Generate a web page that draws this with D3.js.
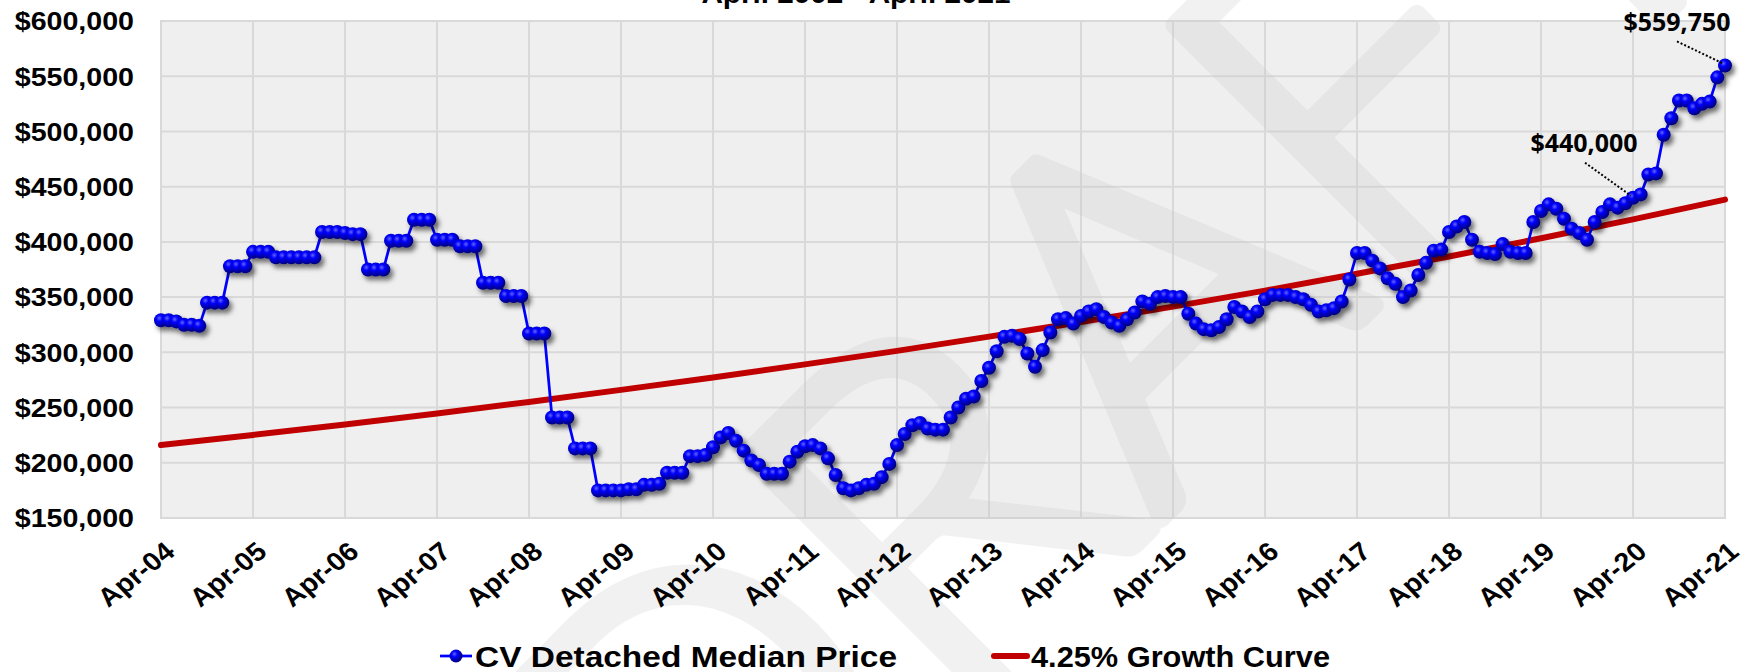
<!DOCTYPE html>
<html lang="en">
<head>
    <meta charset="UTF-8">
    <title>CV Detached Median Price</title>
    <script src="https://d3js.org/d3.v7.min.js"></script>
    <style>
        body { margin: 0; background: #fff; }
        svg { display: block; }
        text { font-family: "Liberation Sans", Arial, sans-serif; font-weight: bold; fill: #000; }
        .callout { font-family: "Open Sans", Lato, sans-serif; font-weight: 700; }
    </style>
</head>
<body>
<svg width="1743" height="672"></svg>
<script>
    // Apr-04 .. Apr-21, one value per month
    const medianPrice = [
        329000, 329000, 328000, 325000, 325000, 324000, 345000, 345000, 345000, 378000, 378000, 378000,
        391000, 391000, 391000, 386000, 386000, 386000, 386000, 386000, 386000, 409000, 409000, 409000,
        408000, 407000, 407000, 375000, 375000, 375000, 401000, 401000, 401000, 420000, 420000, 420000,
        402000, 402000, 402000, 396000, 396000, 396000, 363000, 363000, 363000, 351000, 351000, 351000,
        317000, 317000, 317000, 241000, 241000, 241000, 213000, 213000, 213000, 175000, 175000, 175000,
        175000, 176000, 176000, 180000, 180000, 181000, 191000, 191000, 191000, 206000, 206000, 207000,
        214000, 223000, 227000, 220000, 211000, 202000, 198000, 190000, 190000, 190000, 201000, 210000,
        215000, 216000, 213000, 204000, 189000, 177000, 175000, 177000, 180000, 181000, 187000, 199000,
        216000, 226000, 234000, 236000, 231000, 230000, 230000, 241000, 250000, 258000, 260000, 274000,
        286000, 301000, 314000, 315000, 312000, 299000, 287000, 302000, 318000, 330000, 331000, 326000,
        333000, 337000, 339000, 332000, 327000, 324000, 330000, 336000, 346000, 344000, 350000, 351000,
        350000, 350000, 335000, 326000, 321000, 320000, 323000, 330000, 341000, 337000, 332000, 337000,
        348000, 352000, 352000, 352000, 350000, 348000, 343000, 337000, 338000, 340000, 346000, 366000,
        390000, 390000, 383000, 376000, 367000, 362000, 350000, 356000, 370000, 381000, 392000, 393000,
        409000, 414000, 418000, 402000, 391000, 390000, 389000, 398000, 391000, 390000, 390000, 418000,
        428000, 434000, 430000, 421000, 412000, 408000, 402000, 418000, 427000, 434000, 431000, 435000,
        440000, 443000, 461000, 462000, 497000, 512000, 528000, 528000, 521000, 525000, 527000, 549000,
        559750
    ];

    // growth curve read at each April
    const growthCurve = [
        216000, 225200, 234700, 244700, 255100, 266000, 277300, 289100, 301300,
        314200, 327500, 341400, 355900, 371100, 386800, 403300, 420400, 438300
    ];

    const tickLabels = ["Apr-04", "Apr-05", "Apr-06", "Apr-07", "Apr-08", "Apr-09", "Apr-10", "Apr-11", "Apr-12",
                        "Apr-13", "Apr-14", "Apr-15", "Apr-16", "Apr-17", "Apr-18", "Apr-19", "Apr-20", "Apr-21"];
    const yTicks = [150000, 200000, 250000, 300000, 350000, 400000, 450000, 500000, 550000, 600000];

    const callouts = [
        { index: 192, label: "$440,000" },
        { index: 204, label: "$559,750" }
    ];

    const seriesNames = ["CV Detached Median Price", "4.25% Growth Curve"];

    // layout
    const plot = { left: 161, right: 1725, top: 21, bottom: 518 };
    const SX = 1.1; // the whole picture is a bit widened, text too

    const svg = d3.select("svg");
    const defs = svg.append("defs");

    const grad = defs.append("radialGradient").attr("id", "ball")
        .attr("cx", "38%").attr("cy", "35%").attr("r", "65%");
    grad.append("stop").attr("offset", "0%").attr("stop-color", "#6464ff");
    grad.append("stop").attr("offset", "35%").attr("stop-color", "#0000ff");
    grad.append("stop").attr("offset", "100%").attr("stop-color", "#00007a");

    defs.append("filter").attr("id", "shadow")
        .attr("x", "-50%").attr("y", "-50%").attr("width", "200%").attr("height", "200%")
        .append("feDropShadow")
        .attr("dx", 3).attr("dy", 4).attr("stdDeviation", 2.4)
        .attr("flood-color", "#000").attr("flood-opacity", 0.55);

    const x = d3.scaleLinear().domain([0, medianPrice.length - 1]).range([plot.left, plot.right]);
    const y = d3.scaleLinear().domain([150000, 600000]).range([plot.bottom, plot.top]);
    const yearIdx = tickLabels.map((d, i) => i * 12);

    // plot background + grid
    svg.append("rect")
        .attr("x", plot.left).attr("y", plot.top)
        .attr("width", plot.right - plot.left).attr("height", plot.bottom - plot.top)
        .attr("fill", "#efefef").attr("stroke", "#d9d9d9").attr("stroke-width", 2);

    const grid = svg.append("g").attr("stroke", "#d9d9d9").attr("stroke-width", 2);
    grid.selectAll(".hg").data(yTicks).join("line")
        .attr("x1", plot.left).attr("x2", plot.right)
        .attr("y1", d => y(d)).attr("y2", d => y(d));
    grid.selectAll(".vg").data(yearIdx).join("line")
        .attr("x1", d => x(d)).attr("x2", d => x(d))
        .attr("y1", plot.top).attr("y2", plot.bottom);

    // faint watermark
    svg.append("text")
        .attr("transform", "translate(1230,450) rotate(-45)")
        .attr("text-anchor", "middle")
        .style("font-family", "Lato, 'DejaVu Sans', sans-serif")
        .style("font-weight", 300)
        .style("font-size", "480px")
        .style("fill", "#c4c4c4")
        .style("stroke", "#c4c4c4")
        .style("stroke-width", 18)
        .style("stroke-linejoin", "round")
        .style("opacity", 0.22)
        .text("DRAFT");

    // growth curve
    svg.append("path")
        .datum(growthCurve)
        .attr("fill", "none")
        .attr("stroke", "#c00000")
        .attr("stroke-width", 6)
        .attr("stroke-linecap", "round")
        .attr("d", d3.line()
            .x((d, i) => x(yearIdx[i]))
            .y(d => y(d))
            .curve(d3.curveMonotoneX));

    // median price
    svg.append("path")
        .datum(medianPrice)
        .attr("fill", "none")
        .attr("stroke", "#0000ff")
        .attr("stroke-width", 2.75)
        .attr("d", d3.line().x((d, i) => x(i)).y(d => y(d)));

    svg.append("g").attr("filter", "url(#shadow)")
        .selectAll("circle").data(medianPrice).join("circle")
        .attr("cx", (d, i) => x(i))
        .attr("cy", d => y(d))
        .attr("r", 7)
        .attr("fill", "url(#ball)");

    // y axis labels
    const fmt = d3.format(",");
    svg.append("g").selectAll("text").data(yTicks).join("text")
        .attr("transform", d => `translate(134,${y(d)}) scale(${SX},1)`)
        .attr("text-anchor", "end")
        .attr("dy", "0.36em")
        .style("font-size", "26px")
        .text(d => "$" + fmt(d));

    // x axis labels
    svg.append("g").selectAll("text").data(tickLabels).join("text")
        .attr("transform", (d, i) => `translate(${x(yearIdx[i]) + 2},540) scale(${SX},1) rotate(-41)`)
        .attr("text-anchor", "end")
        .attr("dy", "0.72em")
        .style("font-size", "26px")
        .text(d => d);

    // title, cut off by the top edge
    svg.append("text")
        .attr("transform", `translate(856,3) scale(${SX},1)`)
        .attr("text-anchor", "middle")
        .style("font-size", "27px")
        .text("April 2002 - April 2021");

    // callouts
    const co = svg.append("g");
    const offsets = { 192: [-49, -46, -48, -35], 204: [-48, -34, -48, -24] };
    callouts.forEach(c => {
        const px = x(c.index), py = y(medianPrice[c.index]);
        const o = offsets[c.index];
        co.append("line")
            .attr("x1", px + o[2]).attr("y1", py + o[3])
            .attr("x2", px - 2).attr("y2", py - 2)
            .attr("stroke", "#000").attr("stroke-width", 2)
            .attr("stroke-dasharray", "2,2");
        co.append("text").attr("class", "callout")
            .attr("x", px + o[0]).attr("y", py + o[1])
            .attr("text-anchor", "middle")
            .style("font-size", "25px")
            .text(c.label);
    });

    // legend
    const lg = svg.append("g");
    const legY = 656;
    lg.append("line").attr("x1", 440).attr("x2", 472).attr("y1", legY).attr("y2", legY)
        .attr("stroke", "#0000ff").attr("stroke-width", 2.75);
    lg.append("circle").attr("cx", 456).attr("cy", legY).attr("r", 6.5).attr("fill", "url(#ball)");
    lg.append("text").attr("x", 475).attr("y", 667)
        .attr("textLength", 422).attr("lengthAdjust", "spacingAndGlyphs")
        .style("font-size", "29px").text(seriesNames[0]);
    lg.append("line").attr("x1", 994).attr("x2", 1027).attr("y1", legY).attr("y2", legY)
        .attr("stroke", "#c00000").attr("stroke-width", 6).attr("stroke-linecap", "round");
    lg.append("text").attr("x", 1031).attr("y", 667)
        .attr("textLength", 299).attr("lengthAdjust", "spacingAndGlyphs")
        .style("font-size", "29px").text(seriesNames[1]);
</script>
</body>
</html>
